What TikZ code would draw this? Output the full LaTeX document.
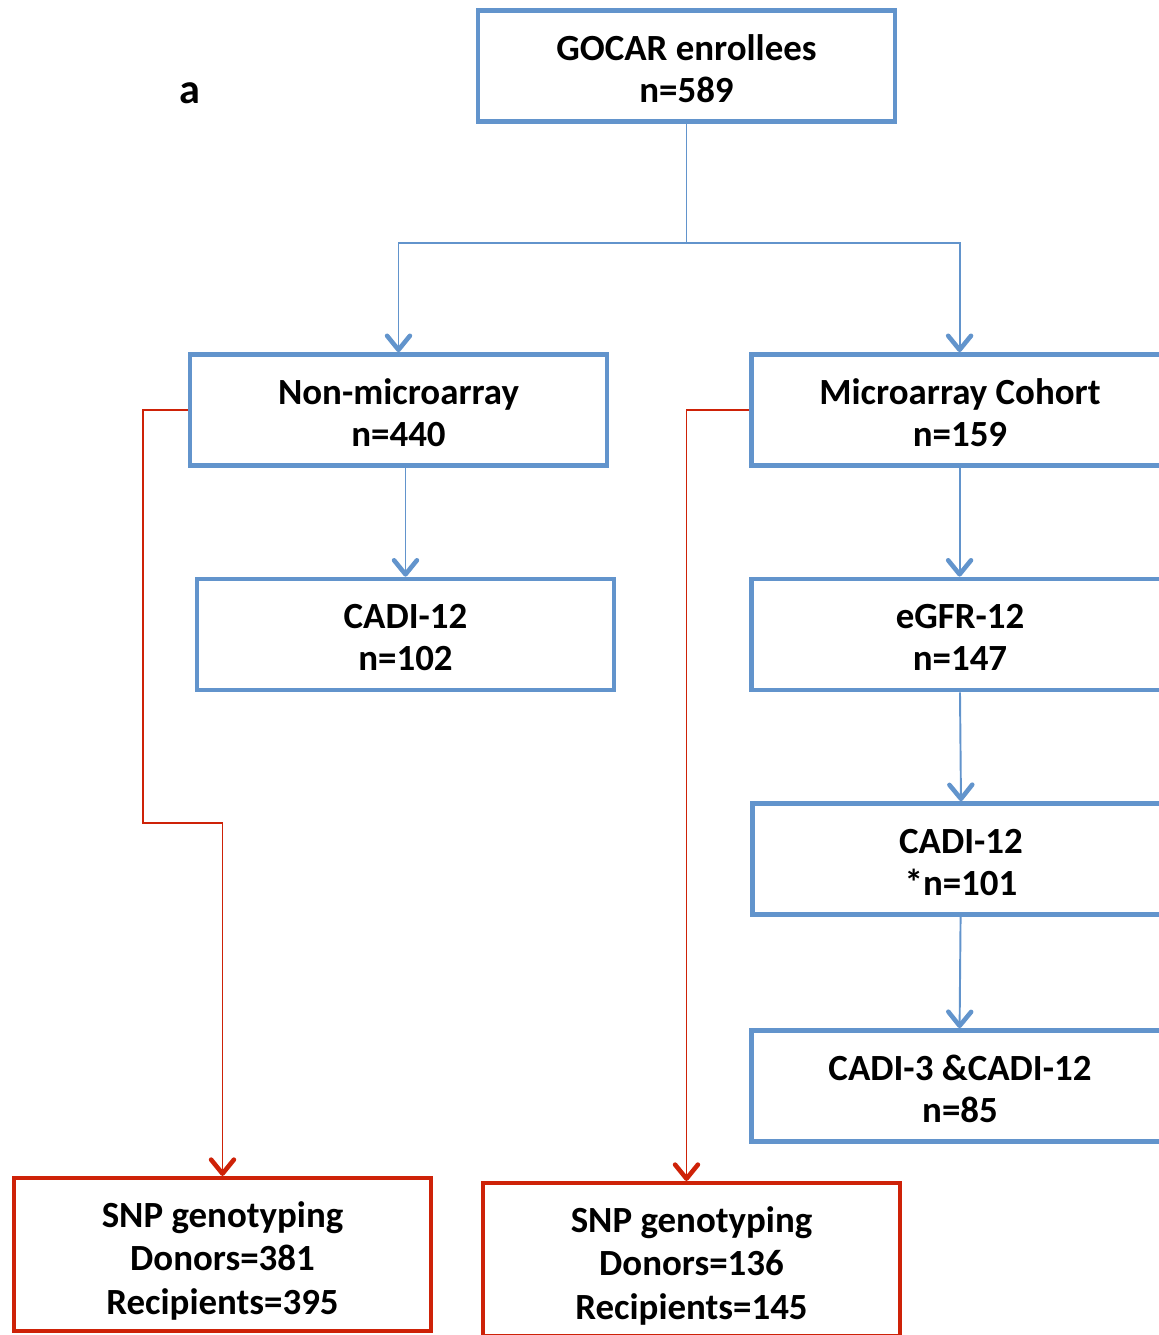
\documentclass[tikz,border=0pt]{standalone}
\usepackage{fontspec}
\setmainfont{Carlito}
\usetikzlibrary{arrows.meta}
\definecolor{boxblue}{RGB}{98,148,204}
\definecolor{boxred}{RGB}{206,34,8}
\newcommand{\bluetop}{\rule{0pt}{17.5pt}}
\newcommand{\redtop}{\rule{0pt}{22pt}}
\begin{document}
\begin{tikzpicture}[scale=0.2]
\tikzstyle{every node}+=[inner sep=0pt, align=center, font=\fontsize{21}{24}\selectfont\bfseries]
\tikzstyle{bluebox}=[draw=boxblue, line width=2.7pt, minimum width=8.34cm, minimum height=2.22cm]
\tikzstyle{redbox}=[draw=boxred, line width=2.3pt, minimum width=8.34cm, minimum height=3.06cm, font=\fontsize{21}{24.75}\selectfont\bfseries]
\tikzstyle{blueline}=[draw=boxblue, line width=1.1pt, -{Straight Barb[length=8pt,width=13pt,line width=2.6pt,round]}]
\tikzstyle{redline}=[draw=boxred, line width=1.1pt, -{Straight Barb[length=8pt,width=13pt,line width=2.6pt,round]}]
\useasboundingbox (0,0) rectangle (115.9,-133.5);
\node [font=\fontsize{24}{28}\selectfont\bfseries] (panel) at (19.0,-9.3) {a};
\node [bluebox] (gocar) at (68.65,-6.6) {\bluetop GOCAR enrollees\\n=589};
\node [bluebox] (nonmicro) at (39.85,-41.0) {\bluetop Non-microarray\\n=440};
\node [bluebox] (micro) at (96.0,-41.0) {\bluetop Microarray Cohort\\n=159};
\node [bluebox] (cadileft) at (40.55,-63.45) {\bluetop CADI-12\\n=102};
\node [bluebox] (egfr) at (96.0,-63.45) {\bluetop eGFR-12\\n=147};
\node [bluebox] (cadiright) at (96.1,-85.9) {\bluetop CADI-12\\*n=101};
\node [bluebox] (cadiboth) at (96.0,-108.6) {\bluetop CADI-3 \&CADI-12\\n=85};
\node [redbox] (snpleft) at (22.25,-125.45) {\redtop SNP genotyping\\Donors=381\\Recipients=395};
\node [redbox] (snpright) at (69.15,-125.95) {\redtop SNP genotyping\\Donors=136\\Recipients=145};
% split below enrollees
\coordinate (split) at (68.65,-24.3);
\draw [draw=boxblue, line width=1.1pt] (gocar.south) -- (split);
\draw [blueline] (split) -| (nonmicro.north);
\draw [blueline] (split) -| ([xshift=-0.04cm]micro.north);
% down the cohorts
\draw [blueline] (cadileft.north |- nonmicro.south) -- (cadileft.north);
\draw [blueline] ([xshift=-0.04cm]micro.south) -- ([xshift=-0.04cm]egfr.north);
\draw [blueline] (egfr.south) -- (cadiright.north);
\draw [blueline] ([xshift=-0.04cm]cadiright.south) -- ([xshift=-0.04cm]cadiboth.north);
% genotyping
\coordinate (bend) at (14.3,-82.3);
\draw [redline] (nonmicro.west) -| (bend) -| (snpleft.north);
\draw [redline] (micro.west) -| (gocar |- snpright.north);
\end{tikzpicture}
\end{document}
